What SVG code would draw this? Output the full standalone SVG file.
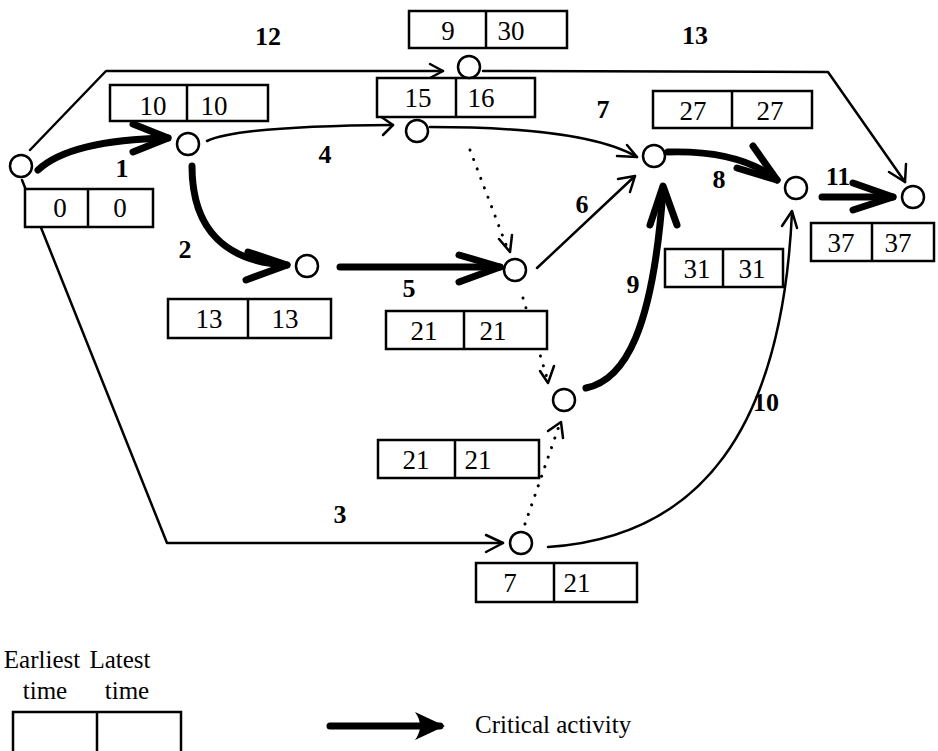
<svg xmlns="http://www.w3.org/2000/svg" width="938" height="751" viewBox="0 0 938 751">
<style>
.bg{fill:#fff}
.node circle{fill:#fff;stroke:#000;stroke-width:2.5}
.box rect{fill:#fff;stroke:#000;stroke-width:2.5}
.box line{stroke:#000;stroke-width:2.5}
text{font-family:'Liberation Serif','DejaVu Serif','Times New Roman',serif;font-size:27px;fill:#000;text-anchor:middle}
.thin{fill:none;stroke:#000;stroke-width:2.5;stroke-linecap:round;stroke-linejoin:round}
.thick{fill:none;stroke:#000;stroke-width:7;stroke-linecap:round;stroke-linejoin:round}
.dot{fill:none;stroke:#000;stroke-width:3;stroke-linecap:round;stroke-dasharray:0.1 10}
.lbl{font-weight:bold;font-size:26px}
.leg{font-size:25px}
</style>
<rect class="bg" x="0" y="0" width="938" height="751"/>

<g id="connectors">
  <!-- 12 -->
  <path class="thin" d="M30,150 L106,71 L443,71"/>
  <path class="thin" d="M430,64 L443,71 L430,78"/>
  <!-- 13 -->
  <path class="thin" d="M483,71 L828,72 L905,182"/>
  <path class="thin" d="M889,172 L905,182 L906,164"/>
  <!-- 1 -->
  <path class="thick" d="M38,170 Q70,140 168,138"/>
  <path class="thick" d="M133,124 L168,138 L133,152"/>
  <!-- 2 -->
  <path class="thick" d="M192,166 C192,232 228,262 287,265"/>
  <path class="thick" d="M248,252 L287,265 L246,280"/>
  <!-- 5 -->
  <path class="thick" d="M340,267 L500,267"/>
  <path class="thick" d="M459,255 L500,267 L459,282"/>
  <!-- 4 -->
  <path class="thin" d="M207,141 Q240,126 393,125"/>
  <path class="thin" d="M380,116 L393,125 L383,135"/>
  <!-- 7 -->
  <path class="thin" d="M430,127 C520,127 600,135 637,157"/>
  <path class="thin" d="M617,156 L637,157 L627,145"/>
  <!-- dotted 15/16 -> 21 -->
  <path class="dot" d="M470,150 L508,250"/>
  <path class="thin" d="M499,239 L510,252 L512,235"/>
  <!-- 6 -->
  <path class="thin" d="M537,268 L635,176"/>
  <path class="thin" d="M618,179 L635,176 L630,192"/>
  <!-- dotted 21 -> 21 lower -->
  <path class="dot" d="M523,298 L547,378"/>
  <path class="thin" d="M540,371 L548,383 L554,366"/>
  <!-- dotted 7/21 -> 21 lower -->
  <path class="dot" d="M525,524 L559,426"/>
  <path class="thin" d="M548,431 L561,422 L563,438"/>
  <!-- 9 -->
  <path class="thick" d="M586,388 C625,380 653,330 663,190"/>
  <path class="thick" d="M650,225 L663,186 L677,225"/>
  <!-- 10 -->
  <path class="thin" d="M548,547 C700,537 782,430 792,212"/>
  <path class="thin" d="M782,226 L792,211 L797,228"/>
  <!-- 8 -->
  <path class="thick" d="M668,152 Q740,150 777,180"/>
  <path class="thick" d="M753,146 L777,180 L737,168"/>
  <!-- 11 -->
  <path class="thick" d="M822,197 L893,197"/>
  <path class="thick" d="M853,183 L893,197 L853,210"/>
  <!-- 3 -->
  <path class="thin" d="M22,180 L167,543 L503,543"/>
  <path class="thin" d="M486,535 L503,543 L486,552"/>
</g>

<g id="activity-labels">
  <text class="lbl" x="268" y="45">12</text>
  <text class="lbl" x="695" y="44">13</text>
  <text class="lbl" x="122" y="177">1</text>
  <text class="lbl" x="325" y="163">4</text>
  <text class="lbl" x="185" y="258">2</text>
  <text class="lbl" x="409" y="297">5</text>
  <text class="lbl" x="340" y="523">3</text>
  <text class="lbl" x="603" y="118">7</text>
  <text class="lbl" x="582" y="213">6</text>
  <text class="lbl" x="719" y="188">8</text>
  <text class="lbl" x="838" y="185">11</text>
  <text class="lbl" x="633" y="293">9</text>
  <text class="lbl" x="766" y="411">10</text>
</g>

<g id="n0" class="node">
  <circle cx="21" cy="166" r="11"/>
  <g class="box"><rect x="25" y="189" width="128" height="38"/><line x1="88" y1="189" x2="88" y2="227"/></g>
  <text x="60" y="217">0</text><text x="120" y="217">0</text>
</g>
<g id="n1" class="node">
  <circle cx="188" cy="144" r="11"/>
  <g class="box"><rect x="110" y="85" width="158" height="36"/><line x1="187" y1="85" x2="187" y2="121"/></g>
  <text x="153" y="115">10</text><text x="214" y="115">10</text>
</g>
<g id="n2" class="node">
  <circle cx="307" cy="266" r="11"/>
  <g class="box"><rect x="168" y="299" width="163" height="39"/><line x1="248" y1="299" x2="248" y2="338"/></g>
  <text x="209" y="328">13</text><text x="285" y="328">13</text>
</g>
<g id="n3" class="node">
  <circle cx="417" cy="131" r="11"/>
  <g class="box"><rect x="377" y="78" width="158" height="39"/><line x1="456" y1="78" x2="456" y2="117"/></g>
  <text x="418" y="107">15</text><text x="481" y="107">16</text>
</g>
<g id="n4" class="node">
  <circle cx="469" cy="67" r="11"/>
  <g class="box"><rect x="409" y="11" width="158" height="37"/><line x1="486" y1="11" x2="486" y2="48"/></g>
  <text x="448" y="40">9</text><text x="511" y="40">30</text>
</g>
<g id="n5" class="node">
  <circle cx="515" cy="270" r="11"/>
  <g class="box"><rect x="386" y="311" width="161" height="38"/><line x1="464" y1="311" x2="464" y2="349"/></g>
  <text x="424" y="340">21</text><text x="493" y="340">21</text>
</g>
<g id="n6" class="node">
  <circle cx="564" cy="400" r="11"/>
  <g class="box"><rect x="378" y="440" width="161" height="38"/><line x1="455" y1="440" x2="455" y2="478"/></g>
  <text x="416" y="469">21</text><text x="478" y="469">21</text>
</g>
<g id="n7" class="node">
  <circle cx="521" cy="543" r="11"/>
  <g class="box"><rect x="476" y="563" width="161" height="39"/><line x1="554" y1="563" x2="554" y2="602"/></g>
  <text x="510" y="592">7</text><text x="577" y="592">21</text>
</g>
<g id="n8" class="node">
  <circle cx="654" cy="156" r="11"/>
  <g class="box"><rect x="653" y="91" width="159" height="37"/><line x1="732" y1="91" x2="732" y2="128"/></g>
  <text x="693" y="120">27</text><text x="770" y="120">27</text>
</g>
<g id="n9" class="node">
  <circle cx="796" cy="188" r="11"/>
  <g class="box"><rect x="665" y="249" width="118" height="38"/><line x1="723" y1="249" x2="723" y2="287"/></g>
  <text x="697" y="278">31</text><text x="752" y="278">31</text>
</g>
<g id="n10" class="node">
  <circle cx="913" cy="197" r="11"/>
  <g class="box"><rect x="811" y="223" width="123" height="38"/><line x1="872" y1="223" x2="872" y2="261"/></g>
  <text x="841" y="252">37</text><text x="898" y="252">37</text>
</g>

<g id="legend">
  <text class="leg" x="42" y="668">Earliest</text>
  <text class="leg" x="120" y="668">Latest</text>
  <text class="leg" x="45" y="699">time</text>
  <text class="leg" x="127" y="699">time</text>
  <g class="box"><rect x="13" y="712" width="168" height="42"/><line x1="97" y1="712" x2="97" y2="754"/></g>
  <path class="thick" d="M330,726 L440,726"/>
  <path d="M415,712 L445,726 L415,740 Q425,726 415,712 Z" fill="#000"/>
  <text class="leg" x="475" y="733" style="text-anchor:start">Critical activity</text>
</g>
</svg>
